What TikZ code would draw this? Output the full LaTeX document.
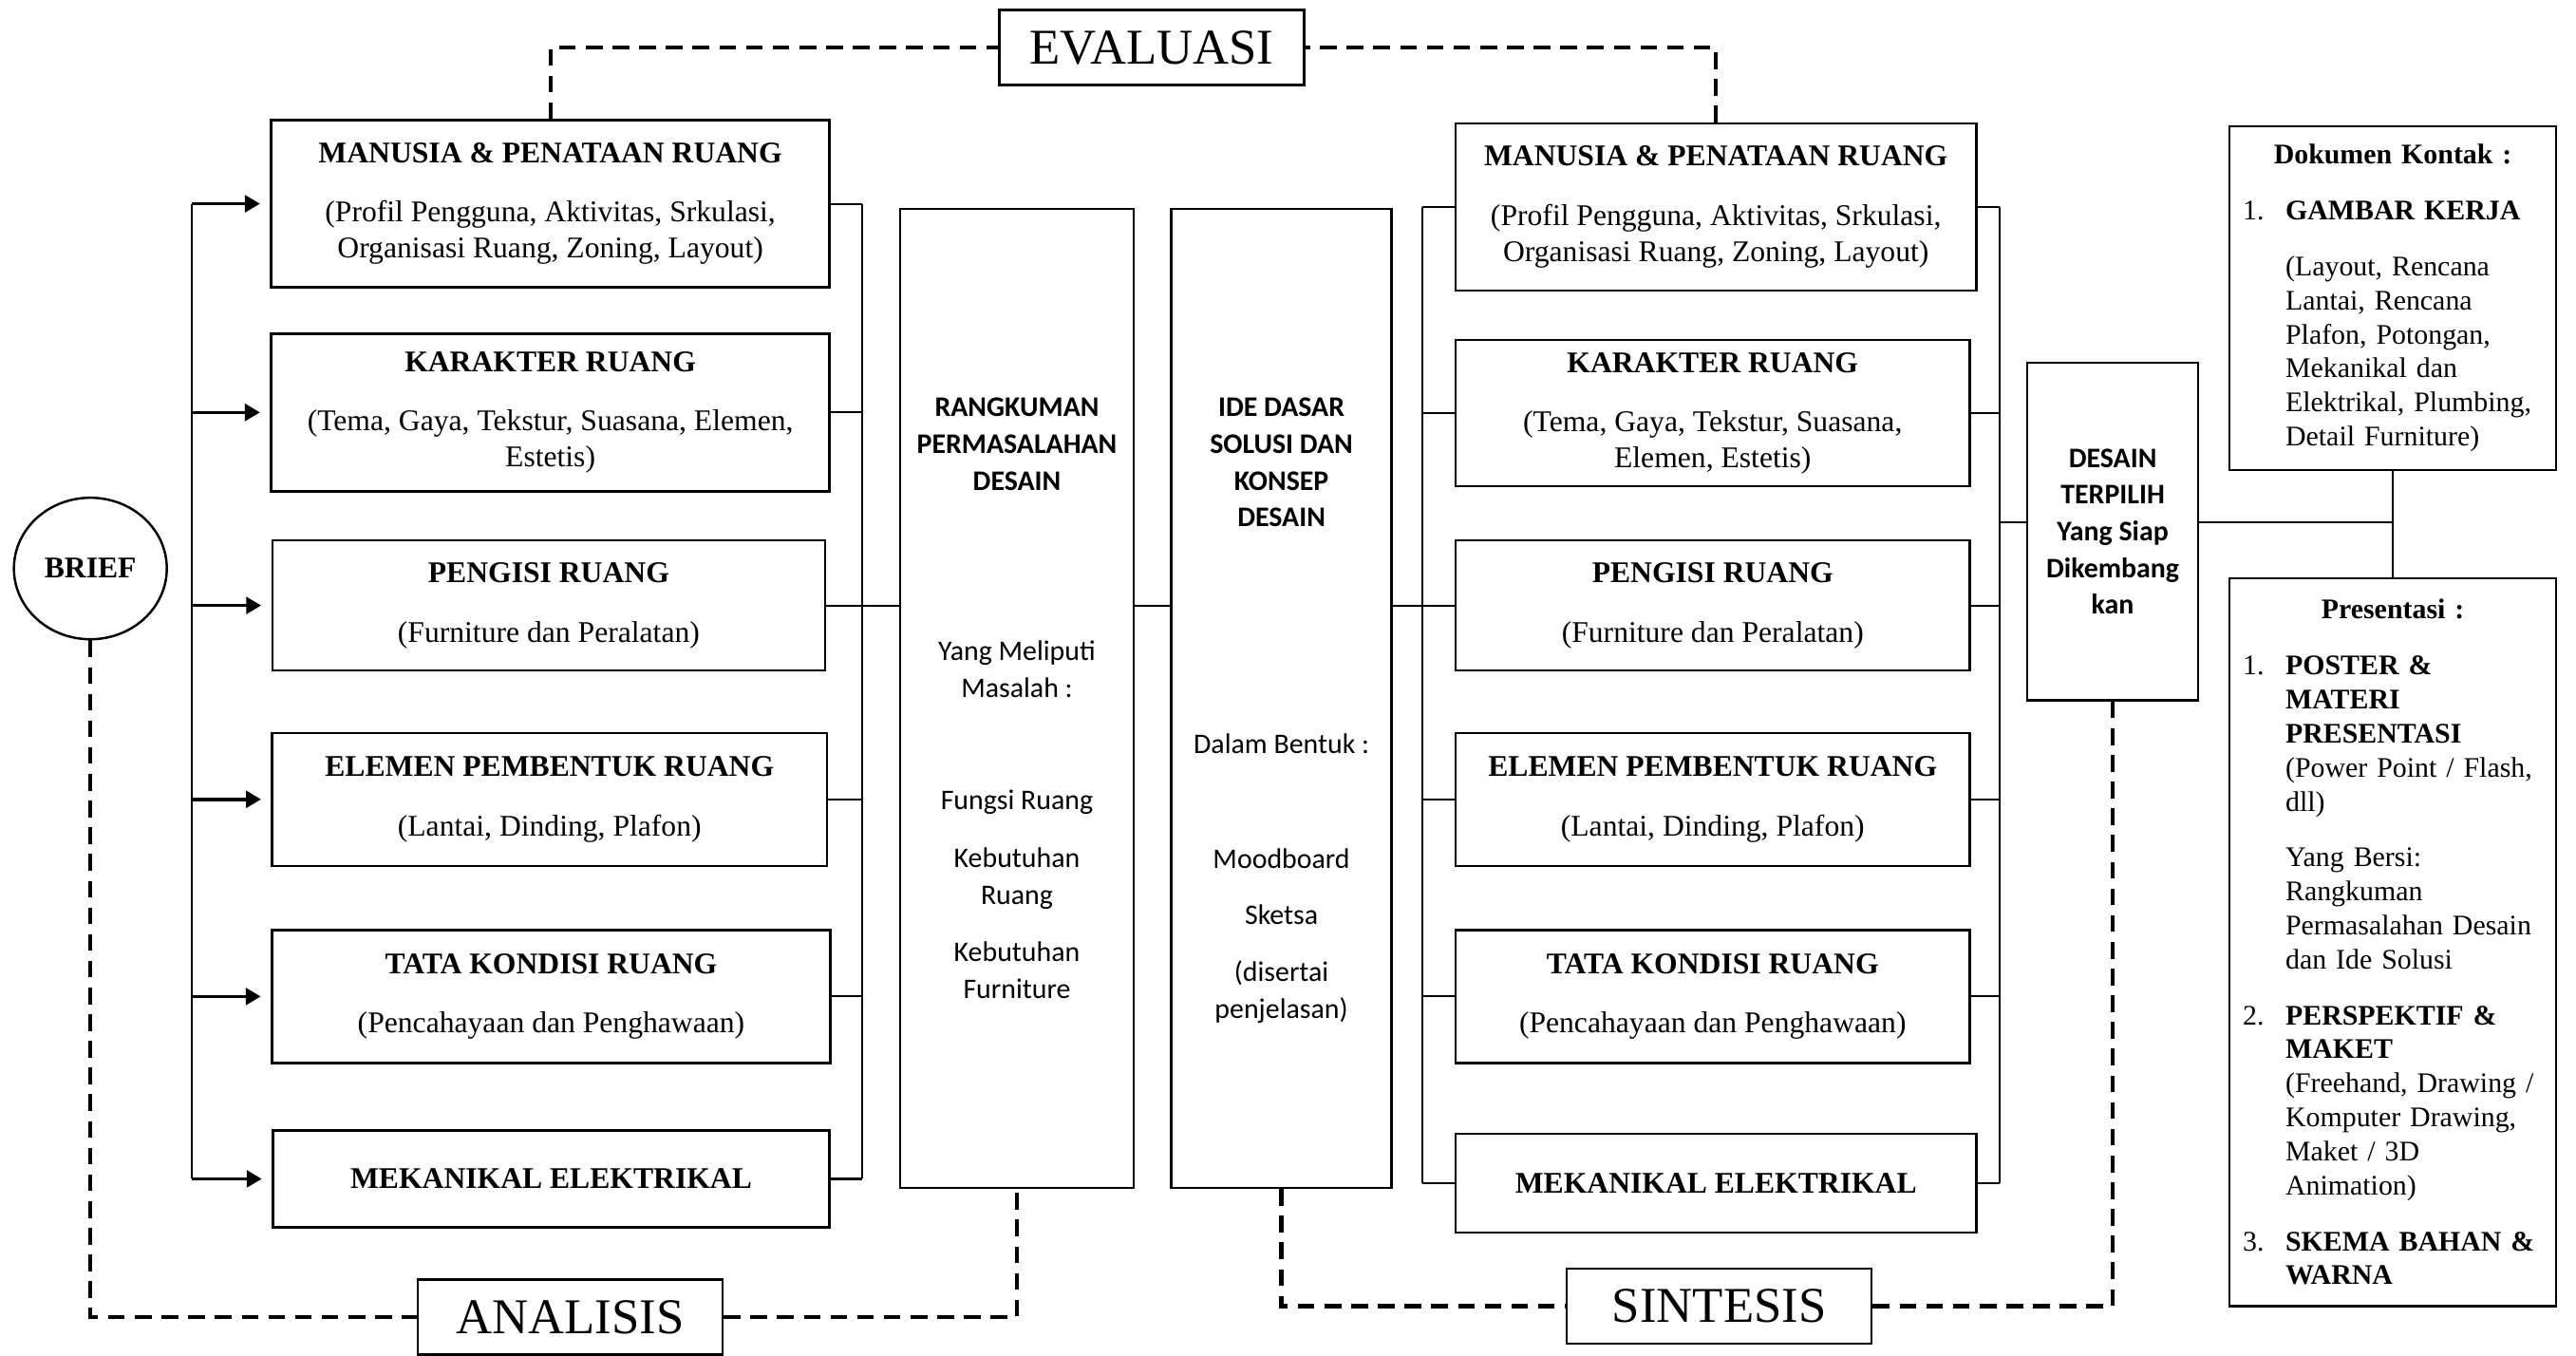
\documentclass[tikz,border=0pt]{standalone}
\usepackage{fontspec}
\setmainfont{Liberation Serif}
\newfontfamily\calibri{Carlito}
\usetikzlibrary{positioning,arrows.meta,shapes.geometric}

% numbered entry and indented paragraph for the list boxes
\newcommand{\numit}[2]{\par\vskip6.5pt{\leftskip=4.5mm\noindent\llap{\makebox[4.5mm][l]{#1}}#2\par}}
\newcommand{\indpar}[1]{\par\vskip6.5pt{\leftskip=4.5mm\noindent #1\par}}

\begin{document}
\begin{tikzpicture}[x=0.173mm, y=-0.173mm,
    roombox/.style={draw, line width=0.7pt, align=center, inner sep=0pt,
      font=\fontsize{9}{10.8}\selectfont},
    conceptbox/.style={draw, line width=0.7pt, align=center, inner sep=0pt,
      font=\calibri\fontsize{8.5}{11}\selectfont},
    stagebox/.style={draw, line width=0.7pt, inner sep=0pt, fill=white,
      minimum width=32.1mm, minimum height=7.9mm,
      font=\fontsize{15}{18}\selectfont},
    listbox/.style={draw, line width=0.7pt, inner xsep=1.4mm, inner ysep=0pt,
      text width=31.6mm, font=\fontsize{8.5}{10.2}\selectfont},
    link/.style={line width=0.6pt},
    arrowline/.style={line width=1pt, -{Triangle[length=4.5pt,width=5pt]}, shorten >=3pt},
    feedback/.style={line width=1.2pt, dash pattern=on 5pt off 3pt}]
  \useasboundingbox (0,0) rectangle (1568,825);

  % stages
  \node[stagebox] (evaluasi) at (701,29) {EVALUASI};
  \node[stagebox] (analisis) at (347,801.5) {ANALISIS};
  \node[stagebox] (sintesis) at (1046.5,795) {SINTESIS};

  \node[draw, ellipse, line width=0.7pt, inner sep=0pt, minimum width=16.1mm,
    minimum height=14.9mm, font=\fontsize{9}{10.8}\selectfont\bfseries] (brief) at (55,346) {BRIEF};

  % analisis column
  \node[roombox, minimum width=58.8mm, minimum height=17.6mm] (lManusia) at (335,124)
    {\textbf{MANUSIA \& PENATAAN RUANG}\\[7pt](Profil Pengguna, Aktivitas, Srkulasi,\\Organisasi Ruang, Zoning, Layout)};
  \node[roombox, minimum width=58.8mm, minimum height=16.6mm] (lKarakter) at (335,251)
    {\textbf{KARAKTER RUANG}\\[7pt](Tema, Gaya, Tekstur, Suasana, Elemen,\\Estetis)};
  \node[roombox, minimum width=58.2mm, minimum height=13.7mm] (lPengisi) at (334,368.5)
    {\textbf{PENGISI RUANG}\\[7pt](Furniture dan Peralatan)};
  \node[roombox, minimum width=58.4mm, minimum height=14mm] (lElemen) at (334.5,486.5)
    {\textbf{ELEMEN PEMBENTUK RUANG}\\[7pt](Lantai, Dinding, Plafon)};
  \node[roombox, minimum width=58.8mm, minimum height=14mm] (lTata) at (335.5,606.5)
    {\textbf{TATA KONDISI RUANG}\\[7pt](Pencahayaan dan Penghawaan)};
  \node[roombox, minimum width=58.6mm, minimum height=10.2mm] (lMekanikal) at (335.5,717.5)
    {\textbf{MEKANIKAL ELEKTRIKAL}};

  \node[conceptbox, minimum width=24.6mm, minimum height=103.1mm] (rangkuman) at (619,425)
    {\textbf{RANGKUMAN}\\\textbf{PERMASALAHAN}\\\textbf{DESAIN}\\[40pt]Yang Meliputi\\Masalah :\\[22.8pt]Fungsi Ruang\\[6.2pt]Kebutuhan\\Ruang\\[6.2pt]Kebutuhan\\Furniture};
  \node[conceptbox, minimum width=23.2mm, minimum height=103.1mm] (ide) at (780,425)
    {\rule{0pt}{13pt}\textbf{IDE DASAR}\\\textbf{SOLUSI DAN}\\\textbf{KONSEP}\\\textbf{DESAIN}\\[57pt]Dalam Bentuk :\\[23.3pt]Moodboard\\[5.8pt]Sketsa\\[6.2pt](disertai\\penjelasan)};

  % sintesis column
  \node[roombox, minimum width=54.8mm, minimum height=17.6mm] (rManusia) at (1044.5,126)
    {\textbf{MANUSIA \& PENATAAN RUANG}\\[7pt](Profil Pengguna, Aktivitas, Srkulasi,\\Organisasi Ruang, Zoning, Layout)};
  \node[roombox, minimum width=54.1mm, minimum height=15.4mm] (rKarakter) at (1042.5,251.5)
    {\textbf{KARAKTER RUANG}\\[7pt](Tema, Gaya, Tekstur, Suasana,\\Elemen, Estetis)};
  \node[roombox, minimum width=54.1mm, minimum height=13.7mm] (rPengisi) at (1042.5,368.5)
    {\textbf{PENGISI RUANG}\\[7pt](Furniture dan Peralatan)};
  \node[roombox, minimum width=54.1mm, minimum height=14mm] (rElemen) at (1042.5,486.5)
    {\textbf{ELEMEN PEMBENTUK RUANG}\\[7pt](Lantai, Dinding, Plafon)};
  \node[roombox, minimum width=54.1mm, minimum height=14mm] (rTata) at (1042.5,606.5)
    {\textbf{TATA KONDISI RUANG}\\[7pt](Pencahayaan dan Penghawaan)};
  \node[roombox, minimum width=54.8mm, minimum height=10.4mm] (rMekanikal) at (1044.5,720)
    {\textbf{MEKANIKAL ELEKTRIKAL}};

  \node[conceptbox, font=\calibri\bfseries\fontsize{8.5}{11}\selectfont,
    minimum width=18mm, minimum height=35.5mm] (desain) at (1286,323.5)
    {DESAIN\\TERPILIH\\Yang Siap\\Dikembang\\kan};

  % outputs
  \node[listbox, minimum height=36.2mm] (dokumen) at (1456.5,181.5) {%
    \noindent\makebox[\linewidth]{\textbf{Dokumen Kontak :}}%
    \numit{1.}{\textbf{GAMBAR KERJA}}%
    \indpar{(Layout, Rencana\newline Lantai, Rencana\newline Plafon, Potongan,\newline Mekanikal dan\newline Elektrikal, Plumbing,\newline Detail Furniture)}};
  \node[listbox, minimum height=76.6mm] (presentasi) at (1456.5,573.5) {%
    \noindent\makebox[\linewidth]{\textbf{Presentasi :}}%
    \numit{1.}{\textbf{POSTER \&}\newline\textbf{MATERI}\newline\textbf{PRESENTASI}\newline(Power Point / Flash,\newline dll)}%
    \indpar{Yang Bersi:\newline Rangkuman\newline Permasalahan Desain\newline dan Ide Solusi}%
    \numit{2.}{\textbf{PERSPEKTIF \&}\newline\textbf{MAKET}\newline(Freehand, Drawing /\newline Komputer Drawing,\newline Maket / 3D\newline Animation)}%
    \numit{3.}{\textbf{SKEMA BAHAN \&}\newline\textbf{WARNA}}};

  % buses
  \coordinate (lbus) at (117,0);
  \coordinate (lbusR) at (525,0);
  \coordinate (rbusL) at (866,0);
  \coordinate (rbusR) at (1217,0);
  \coordinate (split) at (1217,318);

  \draw[link] (lbus |- lManusia.west) -- (lbus |- lMekanikal.west);
  \foreach \n in {lManusia,lKarakter,lPengisi,lElemen,lTata,lMekanikal}
    \draw[arrowline] (lbus |- \n.west) -- (\n.west);
  \draw[link] (lbusR |- lManusia.east) -- (lbusR |- lMekanikal.east);
  \foreach \n in {lManusia,lKarakter,lPengisi,lElemen,lTata,lMekanikal}
    \draw[link] (\n.east) -- (lbusR |- \n.east);

  \draw[link] (lbusR |- lPengisi.east) -- (rangkuman.west |- lPengisi.east);
  \draw[link] (rangkuman.east |- lPengisi.east) -- (ide.west |- lPengisi.east);
  \draw[link] (ide.east |- lPengisi.east) -- (rbusL |- lPengisi.east);

  \draw[link] (rbusL |- rManusia.west) -- (rbusL |- rMekanikal.west);
  \foreach \n in {rManusia,rKarakter,rPengisi,rElemen,rTata,rMekanikal}
    \draw[link] (rbusL |- \n.west) -- (\n.west);
  \draw[link] (rbusR |- rManusia.east) -- (rbusR |- rMekanikal.east);
  \foreach \n in {rManusia,rKarakter,rPengisi,rElemen,rTata,rMekanikal}
    \draw[link] (\n.east) -- (rbusR |- \n.east);

  \draw[link] (split) -- (desain.west |- split);
  \draw[link] (desain.east |- split) -- (dokumen.south |- split);
  \draw[link] (dokumen.south) -- (presentasi.north);

  % feedback loops
  \draw[feedback] (lManusia.north) |- (evaluasi.west);
  \draw[feedback] (rManusia.north) |- (evaluasi.east);
  \draw[feedback] (brief.south) |- (analisis.west);
  \draw[feedback] (analisis.east) -| (rangkuman.south);
  \draw[feedback] (ide.south) |- (sintesis.west);
  \draw[feedback] (sintesis.east) -| (desain.south);
\end{tikzpicture}
\end{document}
